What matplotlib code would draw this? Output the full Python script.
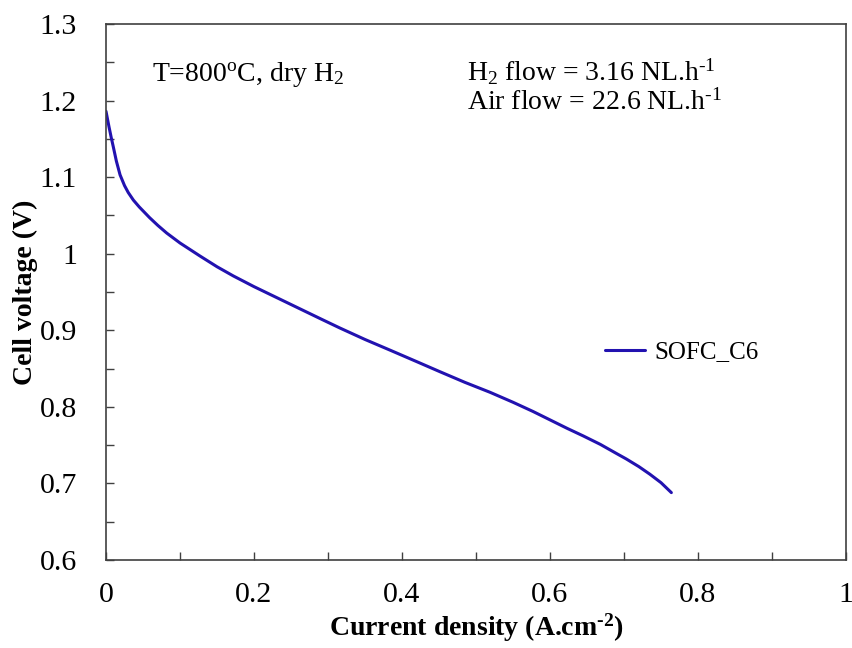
import matplotlib
matplotlib.use("Agg")
import matplotlib.pyplot as plt
from matplotlib.ticker import MultipleLocator

plt.rcParams['font.family'] = ['Liberation Serif', 'DejaVu Serif']
plt.rcParams['mathtext.fontset'] = 'custom'
plt.rcParams['mathtext.rm'] = 'Liberation Serif'
plt.rcParams['mathtext.it'] = 'Liberation Serif:italic'
plt.rcParams['mathtext.bf'] = 'Liberation Serif:bold'
plt.rcParams['mathtext.default'] = 'regular'

current_density = [0.000, 0.002, 0.004, 0.007, 0.010, 0.014, 0.019, 0.025, 0.030, 0.037,
                   0.045, 0.059, 0.070, 0.082, 0.100, 0.127, 0.150, 0.172, 0.200, 0.230,
                   0.260, 0.290, 0.316, 0.350, 0.384, 0.420, 0.451, 0.485, 0.519, 0.550,
                   0.577, 0.600, 0.623, 0.645, 0.668, 0.690, 0.703, 0.720, 0.735, 0.750,
                   0.764]
cell_voltage = [1.186, 1.176, 1.166, 1.152, 1.139, 1.121, 1.103, 1.089, 1.080, 1.070,
                1.061, 1.047, 1.037, 1.027, 1.014, 0.997, 0.983, 0.971, 0.957, 0.943,
                0.929, 0.915, 0.903, 0.888, 0.874, 0.859, 0.846, 0.832, 0.819, 0.806,
                0.794, 0.783, 0.772, 0.762, 0.751, 0.739, 0.732, 0.722, 0.712, 0.701,
                0.688]
series_label = "SOFC_C6"
x_ticks = [0, 0.2, 0.4, 0.6, 0.8, 1.0]
x_ticklabels = ['0', '0.2', '0.4', '0.6', '0.8', '1']
y_ticks = [0.6, 0.7, 0.8, 0.9, 1.0, 1.1, 1.2, 1.3]
y_ticklabels = ['0.6', '0.7', '0.8', '0.9', '1', '1.1', '1.2', '1.3']

fig = plt.figure(figsize=(8.52, 6.48), dpi=100)
ax = fig.add_axes([106/852, 1-560/648, 740/852, 536/648])

ax.plot(current_density, cell_voltage, color='#2212B0', lw=2.2, label=series_label,
        solid_capstyle='round', solid_joinstyle='round')

ax.set_xlim(0, 1)
ax.set_ylim(0.6, 1.3)
ax.xaxis.set_minor_locator(MultipleLocator(0.1))
ax.yaxis.set_minor_locator(MultipleLocator(0.05))
ax.set_xticks(x_ticks)
ax.set_xticklabels(x_ticklabels)
ax.set_yticks(y_ticks)
ax.set_yticklabels(y_ticklabels)
ax.tick_params(which='both', direction='in', length=6, width=1, colors='#404040',
               labelcolor='black', labelsize=21.5, top=False, right=False)
ax.tick_params(axis='x', pad=16)
ax.tick_params(axis='y', pad=21)
for s in ax.spines.values():
    s.set_color('#404040')
    s.set_linewidth(1.2)

ax.set_xlabel('Current density (A.cm$^{\u20102}$)', fontsize=20, fontweight='bold', labelpad=2)
ax.set_ylabel('Cell voltage (V)', fontsize=20, fontweight='bold', labelpad=1)

ax.text(0.062, 1.226, 'T=800$^{o}$C, dry H$_{2}$', fontsize=20)
ax.text(0.488, 1.226, 'H$_{2}$ flow = 3.16 NL.h$^{\u20101}$', fontsize=20)
ax.text(0.488, 1.188, 'Air flow = 22.6 NL.h$^{\u20101}$', fontsize=20)

ax.legend(loc='center left', bbox_to_anchor=(0.674, 0.388), frameon=False,
          fontsize=18, handlelength=1.6, handletextpad=0.4, borderpad=0, borderaxespad=0)

fig.savefig('out.png', dpi=100)
